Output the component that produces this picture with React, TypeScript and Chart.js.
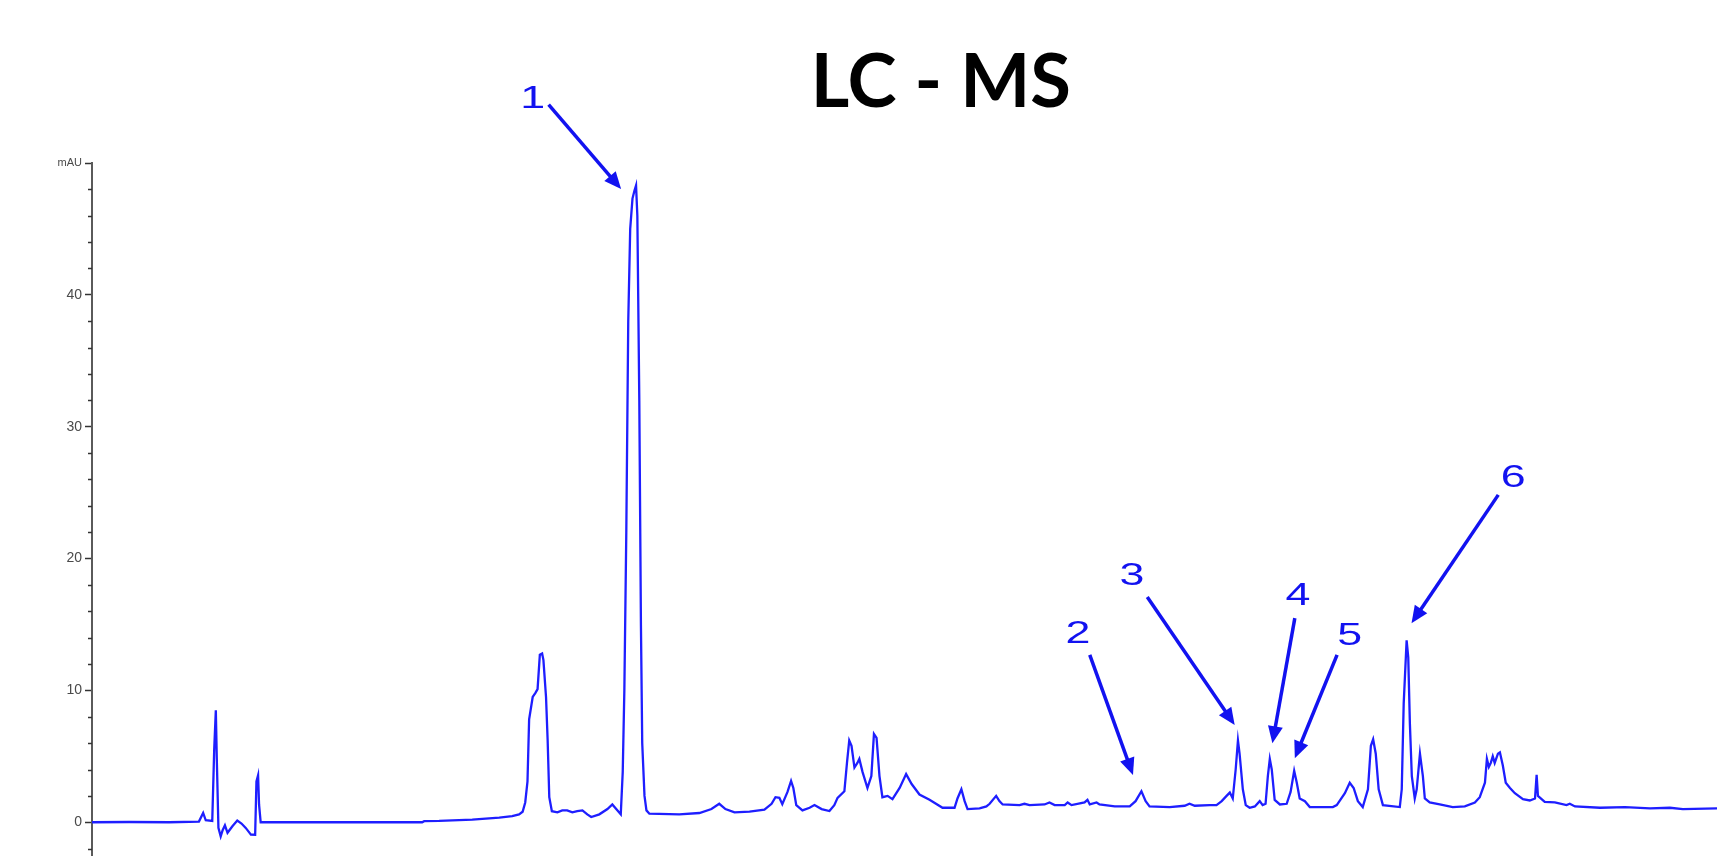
import React, { useEffect, useRef } from "react";
import { Chart, registerables } from "chart.js";

Chart.register(...registerables);

// Retention time (min) and absorbance (mAU)
const retentionTime = [
  0.0, 1.14, 2.37, 3.29, 3.42, 3.5, 3.7, 3.76, 3.81, 3.84, 3.89, 3.96, 4.02, 4.09, 4.17, 4.32, 4.47, 4.6, 4.73, 4.89,
  5.02, 5.06, 5.11, 5.14, 5.19, 10.16, 10.22, 10.68, 11.7, 12.53, 12.93, 13.14, 13.25, 13.33, 13.4, 13.45, 13.56, 13.64,
  13.71, 13.78, 13.85, 13.89, 13.97, 14.02, 14.07, 14.15, 14.32, 14.47, 14.62, 14.78, 14.93, 15.09, 15.24, 15.36, 15.61,
  15.86, 16.01, 16.13, 16.27, 16.33, 16.38, 16.44, 16.5, 16.56, 16.63, 16.69, 16.74, 16.78, 16.84, 16.89, 16.93, 17.0,
  17.06, 17.15, 18.07, 18.69, 19.06, 19.3, 19.49, 19.77, 20.23, 20.69, 20.91, 21.03, 21.15, 21.24, 21.4, 21.51, 21.58,
  21.67, 21.86, 22.08, 22.23, 22.45, 22.69, 22.84, 22.94, 23.15, 23.23, 23.3, 23.37, 23.46, 23.55, 23.61, 23.71, 23.86,
  23.98, 24.06, 24.14, 24.23, 24.32, 24.48, 24.63, 24.85, 25.05, 25.22, 25.46, 25.77, 26.17, 26.54, 26.63, 26.75, 26.85,
  26.94, 27.31, 27.52, 27.62, 27.82, 27.92, 28.02, 28.54, 28.69, 28.85, 29.31, 29.46, 29.62, 29.93, 30.02, 30.14, 30.54,
  30.63, 30.7, 30.91, 31.0, 31.47, 31.93, 32.11, 32.29, 32.42, 32.54, 33.16, 33.62, 33.77, 33.93, 34.39, 34.6, 34.76,
  34.91, 35.01, 35.1, 35.19, 35.26, 35.31, 35.41, 35.5, 35.62, 35.78, 35.93, 36.02, 36.11, 36.18, 36.24, 36.3, 36.39,
  36.55, 36.76, 36.88, 36.99, 37.07, 37.16, 37.32, 37.47, 38.18, 38.3, 38.55, 38.7, 38.82, 38.95, 39.1, 39.26, 39.35,
  39.42, 39.5, 39.59, 39.72, 40.24, 40.3, 40.36, 40.45, 40.5, 40.55, 40.61, 40.7, 40.76, 40.86, 40.95, 41.01, 41.16,
  41.47, 41.87, 42.24, 42.55, 42.7, 42.86, 42.92, 42.98, 43.04, 43.1, 43.16, 43.26, 43.32, 43.41, 43.5, 43.63, 43.78,
  44.03, 44.24, 44.4, 44.45, 44.49, 44.7, 45.01, 45.37, 45.47, 45.63, 46.4, 47.17, 47.94, 48.55, 48.95, 50.0,
];

const absorbance = [
  0.0, 0.02, 0.0, 0.05, 0.71, 0.15, 0.1, 5.5, 8.5, 4.8, -0.43, -1.07, -0.6, -0.23, -0.8, -0.3, 0.13, -0.1, -0.43, -0.94,
  -0.95, 3.1, 3.56, 1.35, 0.0, 0.0, 0.08, 0.1, 0.2, 0.35, 0.46, 0.6, 0.8, 1.5, 3.1, 7.8, 9.5, 9.8,
  10.1, 12.7, 12.8, 12.3, 9.5, 6.2, 1.9, 0.84, 0.75, 0.9, 0.9, 0.75, 0.85, 0.9, 0.6, 0.4, 0.6,
  1.0, 1.35, 1.0, 0.6, 3.8, 10.0, 22.0, 38.0, 45.0, 47.3, 47.9, 48.3, 46.0, 32.0, 15.0, 6.0, 2.0,
  0.9, 0.65, 0.6, 0.7, 1.0, 1.4, 1.0, 0.75, 0.8, 0.95, 1.4, 1.9, 1.85, 1.37, 2.3, 3.13, 2.6,
  1.3, 0.9, 1.1, 1.3, 1.0, 0.85, 1.3, 1.85, 2.35, 4.5, 6.2, 5.8, 4.15, 4.5, 4.8, 3.8, 2.6,
  3.5, 6.7, 6.4, 3.5, 1.9, 2.0, 1.75, 2.6, 3.65, 2.9, 2.1, 1.7, 1.1, 1.1, 1.8, 2.5, 1.6,
  1.0, 1.05, 1.2, 1.4, 2.0, 1.6, 1.35, 1.3, 1.4, 1.3, 1.35, 1.5, 1.3, 1.3, 1.5, 1.3, 1.5,
  1.7, 1.35, 1.5, 1.35, 1.2, 1.2, 1.6, 2.35, 1.6, 1.2, 1.15, 1.25, 1.4, 1.25, 1.3, 1.3, 1.6,
  2.0, 2.25, 1.8, 4.0, 6.2, 5.2, 2.5, 1.3, 1.1, 1.2, 1.6, 1.3, 1.4, 3.5, 4.8, 4.0, 1.7,
  1.35, 1.4, 2.3, 3.9, 3.0, 1.8, 1.6, 1.15, 1.15, 1.3, 2.2, 3.0, 2.6, 1.6, 1.15, 2.5, 5.8,
  6.3, 5.2, 2.5, 1.3, 1.15, 2.5, 9.0, 13.8, 12.5, 7.5, 3.5, 1.8, 2.5, 5.2, 3.5, 1.8, 1.5,
  1.35, 1.15, 1.2, 1.5, 1.9, 3.0, 4.8, 4.2, 4.5, 5.0, 4.5, 5.2, 5.3, 4.3, 3.0, 2.6, 2.2,
  1.75, 1.65, 1.8, 3.6, 2.0, 1.55, 1.5, 1.3, 1.4, 1.2, 1.1, 1.15, 1.05, 1.1, 1.0, 1.05,
];

const yMajorTicks = [0, 10, 20, 30, 40, 50];
const yMinorTicks = [-2, 2, 4, 6, 8, 12, 14, 16, 18, 22, 24, 26, 28, 32, 34, 36, 38, 42, 44, 46, 48];
const yUnitLabel = "mAU";
const chartTitle = "LC - MS";

// Peak annotations (arrow tail -> arrow tip, label position), in data units
const peakLabels = ["1", "2", "3", "4", "5", "6"];
const arrowTailTime = [14.05, 30.7, 32.47, 37.01, 38.31, 43.27];
const arrowTailAbs = [54.42, 12.69, 17.09, 15.48, 12.69, 24.83];
const arrowTipTime = [16.28, 32.03, 35.16, 36.32, 37.01, 40.6];
const arrowTipAbs = [48.03, 3.59, 7.38, 5.99, 4.86, 15.1];
const labelTime = [13.56, 30.34, 32.0, 37.11, 38.7, 43.73];
const labelAbs = [54.93, 14.36, 18.76, 17.2, 14.21, 26.2];

const TRACE_BLUE = "rgb(30,30,255)";
const ARROW_BLUE = "rgb(18,18,240)";

const overlayPlugin = {
  id: "lcmsOverlay",
  afterDraw(chart: any) {
    const ctx = chart.ctx as CanvasRenderingContext2D;
    const xs = chart.scales.x;
    const ys = chart.scales.y;
    const axisX = chart.chartArea.left;

    // minor ticks
    ctx.save();
    ctx.strokeStyle = "#333";
    ctx.lineWidth = 1.5;
    yMinorTicks.forEach((v) => {
      const y = Math.round(ys.getPixelForValue(v)) + 0.5;
      ctx.beginPath();
      ctx.moveTo(axisX - 4, y);
      ctx.lineTo(axisX, y);
      ctx.stroke();
    });
    ctx.restore();

    // arrows + labels
    ctx.save();
    ctx.strokeStyle = ARROW_BLUE;
    ctx.fillStyle = ARROW_BLUE;
    ctx.lineWidth = 3.5;
    ctx.lineCap = "butt";
    peakLabels.forEach((lab, i) => {
      const x0 = xs.getPixelForValue(arrowTailTime[i]);
      const y0 = ys.getPixelForValue(arrowTailAbs[i]);
      const x1 = xs.getPixelForValue(arrowTipTime[i]);
      const y1 = ys.getPixelForValue(arrowTipAbs[i]);
      const ang = Math.atan2(y1 - y0, x1 - x0);
      const headLen = 17;
      const headHalf = 7.5;
      const bx = x1 - headLen * Math.cos(ang);
      const by = y1 - headLen * Math.sin(ang);
      ctx.beginPath();
      ctx.moveTo(x0, y0);
      ctx.lineTo(bx + 2 * Math.cos(ang), by + 2 * Math.sin(ang));
      ctx.stroke();
      ctx.beginPath();
      ctx.moveTo(x1, y1);
      ctx.lineTo(bx + headHalf * Math.sin(ang), by - headHalf * Math.cos(ang));
      ctx.lineTo(bx - headHalf * Math.sin(ang), by + headHalf * Math.cos(ang));
      ctx.closePath();
      ctx.fill();

      const lx = xs.getPixelForValue(labelTime[i]);
      const ly = ys.getPixelForValue(labelAbs[i]);
      ctx.save();
      ctx.translate(lx, ly);
      ctx.scale(1.4, 1);
      ctx.font = "32px 'Liberation Sans', Arial, sans-serif";
      ctx.textAlign = "center";
      ctx.textBaseline = "middle";
      ctx.fillText(lab, 0, 1);
      ctx.restore();
    });
    ctx.restore();

    // title
    ctx.save();
    ctx.fillStyle = "#000";
    ctx.font = "bold 75px Lato, 'Open Sans', sans-serif";
    const m = ctx.measureText(chartTitle);
    const inkW = m.actualBoundingBoxLeft + m.actualBoundingBoxRight;
    const targetW = chart.width * 0.1468;
    const sx = inkW > 0 ? targetW / inkW : 1;
    ctx.translate(chart.width * 0.548, 107);
    ctx.scale(sx, 1);
    ctx.textAlign = "center";
    ctx.textBaseline = "alphabetic";
    ctx.fillText(chartTitle, 0, 0);
    ctx.restore();
  },
};

export default function App() {
  const canvasRef = useRef<HTMLCanvasElement | null>(null);

  useEffect(() => {
    if (!canvasRef.current) return;
    const points = retentionTime.map((t, i) => ({ x: t, y: absorbance[i] }));
    const chart = new Chart(canvasRef.current, {
      type: "line",
      data: {
        datasets: [
          {
            data: points,
            borderColor: TRACE_BLUE,
            borderWidth: 2.3,
            pointRadius: 0,
            tension: 0,
            fill: false,
          },
        ],
      },
      options: {
        animation: false,
        responsive: true,
        maintainAspectRatio: false,
        layout: { padding: { top: 163, left: 0, right: 0, bottom: 0 } },
        plugins: {
          legend: { display: false },
          tooltip: { enabled: false },
          title: { display: false },
        },
        scales: {
          x: { type: "linear", min: 0, max: 50, display: false },
          y: {
            type: "linear",
            min: -2.56,
            max: 50,
            position: "left",
            afterFit: (s: any) => {
              s.width = 92;
              s.paddingTop = 0;
              s.paddingBottom = 0;
            },
            afterBuildTicks: (s: any) => {
              s.ticks = yMajorTicks.map((v) => ({ value: v }));
            },
            ticks: {
              padding: 3,
              color: "#4a4a4a",
              callback: (v: any) => (v === 50 ? yUnitLabel : String(v)),
              font: (c: any) =>
                c.tick && c.tick.value === 50
                  ? { family: "'Liberation Sans', Arial, sans-serif", size: 11 }
                  : { family: "'Liberation Sans', Arial, sans-serif", size: 14 },
            },
            grid: {
              drawOnChartArea: false,
              drawTicks: true,
              tickLength: 7,
              tickColor: "#333",
              tickWidth: 1.5,
            },
            border: { display: true, color: "#5a5a5a", width: 2 },
          },
        },
      },
      plugins: [overlayPlugin],
    });
    return () => chart.destroy();
  }, []);

  return (
    <div style={{ position: "fixed", left: 0, top: 0, width: 1717, height: 856, background: "#fff" }}>
      <canvas ref={canvasRef} />
    </div>
  );
}
